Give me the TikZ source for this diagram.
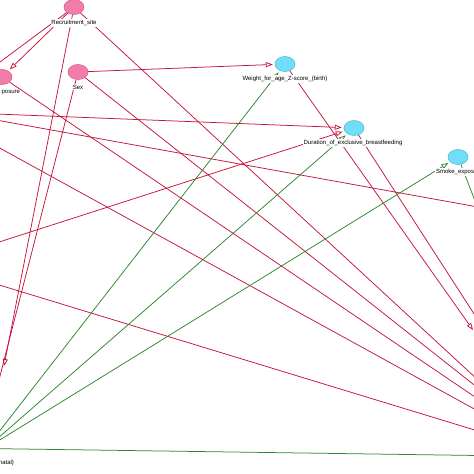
\documentclass[tikz,border=0pt]{standalone}
\usepackage{fontspec}
\setmainfont{Liberation Sans}
\usetikzlibrary{arrows.meta,shapes.geometric}
\definecolor{edgered}{RGB}{198,20,62}
\definecolor{edgegreen}{RGB}{46,134,46}
\definecolor{pinkfill}{RGB}{242,124,170}
\definecolor{pinkline}{RGB}{214,84,134}
\definecolor{cyanfill}{RGB}{112,222,246}
\definecolor{cyanline}{RGB}{70,180,215}
\pgfdeclarelayer{background}
\pgfsetlayers{background,main}
\begin{document}
\begin{tikzpicture}[x=1pt,y=-1pt,
  pinknode/.style={ellipse,draw=pinkline,fill=pinkfill,line width=0.5pt,minimum width=20pt,minimum height=15pt,inner sep=0pt},
  cyannode/.style={ellipse,draw=cyanline,fill=cyanfill,line width=0.5pt,minimum width=20pt,minimum height=15pt,inner sep=0pt},
  lbl/.style={font=\fontsize{6}{7}\selectfont,inner sep=0.8pt,text=black,fill=white},
  redline/.style={draw=edgered,line width=0.75pt},
  greenline/.style={draw=edgegreen,line width=0.75pt},
  tipto/.style={-{Triangle[open,length=7pt,width=5pt,line width=0.75pt]},shorten >=2pt},
  tipfree/.style={-{Triangle[open,length=7pt,width=5pt,line width=0.75pt]}}
]
\useasboundingbox (0,0) rectangle (474,474);
\clip (0,0) rectangle (474,474);

% nodes
\node[pinknode] (RS) at (74,7) {};
\node[pinknode] (EX) at (2,77) {};
\node[pinknode] (SX) at (78,72) {};
\node[cyannode] (WT) at (285,64) {};
\node[cyannode] (DU) at (354,128) {};
\node[cyannode] (SM) at (458,157) {};

% labels
\node[lbl] (RSl) at (74,23) {Recruitment\_site};
\node[lbl,anchor=east] (EXl) at (21,93) {posure};
\node[lbl] (SXl) at (78,87) {Sex};
\node[lbl] (WTl) at (285,79) {Weight\_for\_age\_Z-score\_(birth)};
\node[lbl] (DUl) at (353,143) {Duration\_of\_exclusive\_breastfeeding};
\node[lbl,anchor=west] (SMl) at (435,172) {Smoke\_expos};
\node[lbl,anchor=east] (BLl) at (15,463) {natal)};

% free ends
\coordinate (A1) at (-4,65);
\coordinate (LL1) at (4,366);
\coordinate (LL2) at (-1,380);
\coordinate (D) at (478,380);
\coordinate (F) at (478,388);
\coordinate (H) at (478,399);
\coordinate (L1) at (-4,114);
\coordinate (L2) at (-4,120);
\coordinate (R2) at (478,207);
\coordinate (L3) at (-4,146);
\coordinate (R3) at (478,411);
\coordinate (L4) at (-4,243);
\coordinate (L5) at (-4,284);
\coordinate (R5) at (478,431);
\coordinate (W) at (473,330);
\coordinate (U) at (478,320);
\coordinate (BL) at (-14,448.5);
\coordinate (R6) at (478,455.5);
\coordinate (SMend) at (477,206);

\begin{pgfonlayer}{background}
\fill[white] (0,0) rectangle (474,474);
\clip (0,0) rectangle (474,474);
% red edges
\draw[redline] (RS) -- (A1);
\draw[redline,tipto] (RS) -- (EX);
\draw[redline,tipfree] (RS) -- (LL1);
\draw[redline] (RS) -- (D);
\draw[redline,tipto] (SX) -- (WT);
\draw[redline] (SX) -- (F);
\draw[redline] (SX) -- (LL2);
\draw[redline] (EX) -- (H);
\draw[redline,tipto] (L1) -- (DU);
\draw[redline] (L2) -- (R2);
\draw[redline] (L3) -- (R3);
\draw[redline,tipto] (L4) -- (DU);
\draw[redline] (L5) -- (R5);
\draw[redline,tipfree] (WT) -- (W);
\draw[redline] (DU) -- (U);
% green edges
\draw[greenline,tipto] (BL) -- (WT);
\draw[greenline,tipto] (BL) -- (DU);
\draw[greenline,tipto] (BL) -- (SM);
\draw[greenline] (BL) -- (R6);
\draw[greenline] (SM) -- (SMend);
\end{pgfonlayer}
\end{tikzpicture}
\end{document}
